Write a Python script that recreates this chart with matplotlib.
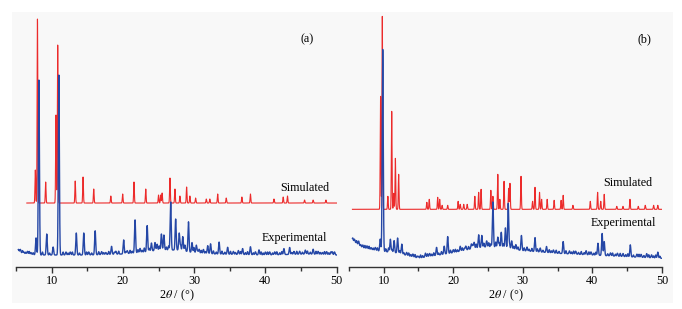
import numpy as np
import matplotlib
matplotlib.use('Agg')
import matplotlib.pyplot as plt
from matplotlib.patches import Rectangle
from matplotlib.ticker import MultipleLocator

plt.rcParams['font.family'] = ['Liberation Serif', 'DejaVu Serif']
plt.rcParams['mathtext.fontset'] = 'stix'

# ---------------- donnees (intensite en u.a.) ----------------
# (a) simule
a_sim_pos = [7.7, 8.0, 9.15, 10.6, 10.84, 13.3, 14.4, 15.9, 18.3, 19.96, 21.55, 23.2, 25.0, 25.3,
             25.5, 26.6, 27.3, 28.0, 28.94, 29.4, 30.2, 31.7, 32.2, 33.3, 34.5, 36.7, 37.9, 41.2,
             42.5, 43.1, 45.5, 46.7, 48.5]
a_sim_h = [33, 184, 21, 88, 158, 22, 26, 14, 7, 9, 21, 14, 8, 8,
           10, 25, 14, 7, 16, 7, 5, 4, 4, 9, 5, 6, 9, 4,
           6, 7, 3, 3, 3]
a_sim_base = 64

# (a) experimental
a_exp_pos = [5.6, 6.1, 6.6, 7.1, 7.8, 8.2, 9.3, 10.2, 11.0, 12.0, 12.6, 13.45, 14.5, 15.2, 16.1,
             17.0, 17.6, 18.4, 19.0, 20.1, 20.6, 21.7, 22.4, 23.4, 24.0, 24.5, 24.8, 25.4, 25.75,
             26.7, 27.4, 27.9, 28.4, 28.7, 29.2, 29.7, 30.3, 30.7, 31.3, 31.9, 32.3, 33.5, 34.7,
             35.5, 36.2, 36.8, 37.9, 38.6, 39.1, 40.0, 40.6, 41.3, 42.6, 43.4, 44.0, 44.8, 45.6,
             46.7, 47.4, 48.0, 48.6, 49.2, 49.7]
a_exp_h = [3, 2, 3, 2, 17, 175, 21, 8, 180, 3, 3, 22, 22, 3, 24,
           3, 2, 8, 3, 14, 3, 33, 4, 26, 8, 8, 6, 16, 15,
           48, 31, 17, 14, 6, 30, 10, 8, 4, 4, 8, 10, 12, 7,
           3, 4, 6, 8, 3, 5, 3, 3, 3, 6, 7, 3, 3, 4,
           5, 3, 2, 3, 3, 3]
# petites oscillations du fond (a)
a_fond_pos = [5.35, 5.9, 6.35, 6.85, 7.4, 8.7, 9.7, 11.6, 12.3, 12.9, 13.9, 14.9, 15.6, 16.6,
              17.3, 18.0, 18.8, 19.4, 20.4, 21.0, 21.3, 22.1, 22.7, 23.0, 23.7, 25.1, 26.1, 26.4,
              28.1, 29.95, 30.0, 30.5, 31.0, 31.6, 32.7, 33.1, 33.9, 34.3, 35.1, 35.8, 36.5, 37.2,
              37.5, 38.3, 39.4, 39.7, 40.3, 41.0, 41.6, 42.0, 42.3, 43.7, 44.4, 45.2, 45.9,
              46.3, 47.1, 47.7, 48.3, 48.9, 49.4]
a_fond_h = [2, 3, 2, 3, 2, 3, 2, 3, 2, 3, 2, 3, 2, 3,
            2, 3, 2, 3, 2, 3, 2, 3, 2, 4, 3, 4, 3, 4,
            5, 3, 3, 2, 3, 2, 3, 2, 3, 2, 3, 2, 3, 2,
            3, 2, 3, 2, 3, 2, 3, 2, 3, 2, 3, 2, 3,
            2, 3, 2, 3, 2, 3]
a_bg_x = [5, 6, 8, 15, 20, 23, 25, 28, 30, 33, 40, 46, 50]
a_bg_y = [17, 13, 12, 12, 13, 15, 17, 17, 14, 13, 12, 13, 12]

# (b) simule
b_sim_pos = [9.55, 9.8, 10.6, 11.15, 11.44, 11.68, 12.15, 16.2, 16.55, 17.76, 18.05, 18.4, 19.2,
             20.7, 21.0, 21.5, 22.0, 23.1, 23.65, 24.0, 25.4, 25.7, 26.4, 26.7, 27.3, 27.96,
             28.15, 29.74, 31.4, 31.75, 32.4, 32.7, 33.5, 34.5, 35.5, 35.8, 37.2, 39.7, 40.75,
             41.2, 41.7, 43.5, 44.4, 45.4, 46.6, 47.6, 48.8, 49.4]
b_sim_h = [113, 193, 13, 98, 16, 51, 35, 7, 10, 12, 10, 4, 4,
           8, 5, 5, 5, 13, 17, 20, 19, 13, 35, 10, 28, 21,
           26, 33, 8, 22, 17, 10, 10, 9, 9, 14, 4, 8, 17,
           8, 15, 3, 3, 10, 3, 4, 4, 4]
b_sim_base = 57.7

# (b) experimental
b_exp_pos = [5.8, 6.4, 7.0, 7.6, 8.2, 8.8, 9.5, 9.86, 10.96, 11.5, 12.0, 12.6, 13.3, 14.2, 15.0,
             16.0, 16.6, 17.6, 18.7, 19.2, 20.0, 21.0, 21.8, 22.6, 23.0, 23.65, 24.1, 24.8, 25.7,
             26.4, 26.9, 27.5, 27.9, 28.4, 29.0, 29.8, 30.6, 31.75, 32.5, 33.4, 34.4, 35.8, 36.7,
             37.6, 39.1, 39.8, 40.8, 41.4, 41.7, 42.6, 43.6, 44.4, 45.45, 46.4, 47.0, 47.8,
             48.5, 49.4]
b_exp_h = [3, 4, 3, 3, 2, 3, 12, 202, 13, 12, 15, 10, 3, 3, 2,
           4, 3, 8, 8, 17, 3, 5, 4, 5, 6, 13, 12, 6, 45,
           10, 15, 20, 45, 8, 5, 15, 4, 14, 4, 6, 3, 12, 3,
           3, 4, 3, 12, 22, 14, 3, 3, 3, 12, 3, 3, 4,
           3, 6]
# petites oscillations du fond (b)
b_fond_pos = [5.55, 6.1, 6.7, 7.3, 7.9, 8.5, 9.1, 10.3, 10.7, 11.2, 12.3, 12.9, 13.6, 13.9,
              14.5, 14.8, 15.3, 15.6, 16.3, 16.9, 17.2, 17.9, 18.3, 19.6, 20.3, 20.6, 21.3, 21.6,
              22.2, 22.8, 23.3, 24.4, 25.1, 25.4, 26.1, 26.6, 27.2, 28.1, 28.7, 29.3, 30.2, 30.9,
              31.3, 32.1, 32.9, 33.8, 34.1, 34.8, 35.2, 36.2, 37.0, 37.3, 38.0, 38.4, 38.8,
              39.5, 40.2, 40.5, 42.2, 42.9, 43.3, 44.0, 44.8, 45.1, 45.9, 46.7, 47.4, 48.1,
              48.8, 49.1, 49.7]
b_fond_h = [3, 3, 2, 3, 3, 2, 3, 3, 4, 3, 3, 2, 3, 2,
            3, 2, 3, 2, 3, 2, 3, 2, 3, 3, 3, 2, 3, 2,
            3, 4, 4, 4, 4, 3, 5, 4, 4, 4, 3, 3, 3, 2,
            3, 3, 2, 3, 2, 3, 2, 3, 2, 3, 2, 3, 2,
            3, 2, 3, 2, 3, 2, 3, 2, 3, 2, 3, 2, 3,
            2, 3, 2]
b_bg_x = [5.5, 7, 9, 12, 14, 15, 17, 20, 23, 25, 27, 30, 35, 40, 45, 50]
b_bg_y = [26.3, 19, 16.3, 14, 10.3, 8.7, 11, 14.3, 18.7, 20.3, 19.7, 16.3, 13.7, 12, 10.3, 8.7]

xticks = [10, 20, 30, 40, 50]

# ---------------- construction des diffractogrammes ----------------
def profil(x, pos, h, sig):
    y = np.zeros_like(x)
    for p, hh in zip(pos, h):
        y += hh * np.exp(-0.5 * ((x - p) / sig) ** 2)
    return y

x = np.arange(5, 50.001, 0.01)

m = x >= 6.5
a_sim = a_sim_base + profil(x, a_sim_pos, a_sim_h, 0.05)
m2 = x >= 5.3
a_exp = (np.interp(x, a_bg_x, a_bg_y) + profil(x, a_exp_pos, a_exp_h, 0.075)
         + profil(x, a_fond_pos, a_fond_h, 0.06))

mb = x >= 5.5
b_sim = b_sim_base + profil(x, b_sim_pos, b_sim_h, 0.05)
b_exp = (np.interp(x, b_bg_x, b_bg_y) + profil(x, b_exp_pos, b_exp_h, 0.075)
         + profil(x, b_fond_pos, b_fond_h, 0.06))

rouge = '#ec2b2b'
bleu = '#2547a6'

fig = plt.figure(figsize=(6.82, 3.09), dpi=100)
fig.patches.append(Rectangle((0.0176, 0.0194), 0.969, 0.942, transform=fig.transFigure,
                             facecolor='#f8f8f8', edgecolor='none', zorder=-10))

axes = [fig.add_axes([0.0236, 0.1359, 0.470, 0.825]),
        fig.add_axes([0.5116, 0.1359, 0.459, 0.825])]

axes[0].plot(x[m], a_sim[m], color=rouge, lw=0.8)
axes[0].plot(x[m2], a_exp[m2], color=bleu, lw=1.0)
axes[1].plot(x[mb], b_sim[mb], color=rouge, lw=0.8)
axes[1].plot(x[mb], b_exp[mb], color=bleu, lw=1.0)

# textes
fs = 8.7
axes[0].text(45.8, 228, '(a)', ha='center', va='center', fontsize=fs)
axes[0].text(45.5, 79, 'Simulated', ha='center', va='center', fontsize=fs)
axes[0].text(44.1, 29, 'Experimental', ha='center', va='center', fontsize=fs)
axes[1].text(47.5, 228, '(b)', ha='center', va='center', fontsize=fs)
axes[1].text(45.1, 84, 'Simulated', ha='center', va='center', fontsize=fs)
axes[1].text(44.4, 44, 'Experimental', ha='center', va='center', fontsize=fs)

for ax in axes:
    ax.set_xlim(5, 50)
    ax.set_ylim(0, 255)
    ax.set_facecolor('none')
    for s in ['top', 'right', 'left']:
        ax.spines[s].set_visible(False)
    ax.spines['bottom'].set_color('#333333')
    ax.spines['bottom'].set_linewidth(1.0)
    ax.set_yticks([])
    ax.set_xticks(xticks)
    ax.xaxis.set_minor_locator(MultipleLocator(5))
    ax.tick_params(axis='x', which='major', length=4, width=1, color='#333333',
                   labelsize=fs, pad=2)
    ax.tick_params(axis='x', which='minor', length=3, width=1, color='#333333')
    ax.set_xlabel(r'2$\theta$ / (°)', fontsize=fs, labelpad=0)

fig.savefig('out.png', dpi=100)
